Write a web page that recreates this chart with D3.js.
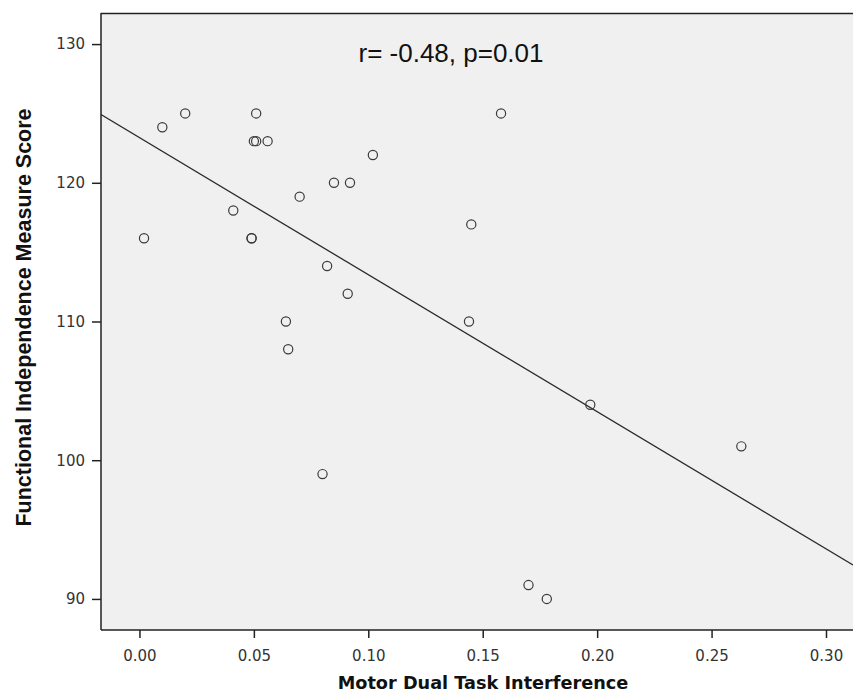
<!DOCTYPE html>
<html>
<head>
<meta charset="utf-8">
<script src="https://cdn.jsdelivr.net/npm/d3@7"></script>
<style>
  body { margin: 0; background: #fff; }
  svg { display: block; }
</style>
</head>
<body>
<div class="svg"></div>
<script>
// data
var interference = [0.002, 0.010, 0.020, 0.041, 0.049, 0.049, 0.050, 0.051, 0.051, 0.056,
                    0.064, 0.065, 0.070, 0.080, 0.082, 0.085, 0.091, 0.092, 0.102, 0.144,
                    0.145, 0.158, 0.170, 0.178, 0.197, 0.263];
var fimScore =     [116, 124, 125, 118, 116, 116, 123, 123, 125, 123,
                    110, 108, 119, 99, 114, 120, 112, 120, 122, 110,
                    117, 125, 91, 90, 104, 101];
var xTicks = [0.00, 0.05, 0.10, 0.15, 0.20, 0.25, 0.30];
var yTicks = [90, 100, 110, 120, 130];
var annotation = "r= -0.48, p=0.01";

var width = 853, height = 693;
var margin = {top: 13, right: 0, bottom: 63, left: 101};

var data = interference.map(function(d, i){ return {x: d, y: fimScore[i]}; });

var svg = d3.select("div.svg")
    .append("svg")
    .attr("width", width)
    .attr("height", height);

var x = d3.scaleLinear()
    .domain([-0.0168, 0.3118])
    .range([margin.left, width - margin.right]);

var y = d3.scaleLinear()
    .domain([87.76, 132.24])
    .range([height - margin.bottom, margin.top]);

// plot background
svg.append("rect")
    .attr("x", margin.left)
    .attr("y", margin.top)
    .attr("width", width - margin.right - margin.left)
    .attr("height", height - margin.bottom - margin.top)
    .attr("fill", "#f0f0f0");

svg.append("line")
    .attr("x1", margin.left).attr("x2", width)
    .attr("y1", margin.top + 0.5).attr("y2", margin.top + 0.5)
    .attr("stroke", "#222").attr("stroke-width", 1.3);

// least squares fit
var mx = d3.mean(data, d => d.x), my = d3.mean(data, d => d.y);
var sxy = d3.sum(data, d => (d.x - mx) * (d.y - my));
var sxx = d3.sum(data, d => (d.x - mx) * (d.x - mx));
var slope = sxy / sxx, intercept = my - slope * mx;
var xd = x.domain();

svg.append("clipPath").attr("id", "plotclip")
    .append("rect")
    .attr("x", margin.left).attr("y", margin.top)
    .attr("width", width - margin.left).attr("height", height - margin.bottom - margin.top);

var line = d3.line()
    .x(d => x(d))
    .y(d => y(intercept + slope * d));

svg.append("path")
    .datum(xd)
    .attr("clip-path", "url(#plotclip)")
    .attr("fill", "none")
    .attr("stroke", "#2a2a2a")
    .attr("stroke-width", 1.3)
    .attr("d", line);

svg.append("g")
    .selectAll("circle")
    .data(data)
    .enter().append("circle")
    .attr("cx", d => x(d.x))
    .attr("cy", d => y(d.y))
    .attr("r", 4.6)
    .attr("fill", "none")
    .attr("stroke", "#3a3a3a")
    .attr("stroke-width", 1.2);

var xAxis = d3.axisBottom(x)
    .tickValues(xTicks)
    .tickFormat(d3.format(".2f"))
    .tickSize(8)
    .tickPadding(12);

var yAxis = d3.axisLeft(y)
    .tickValues(yTicks)
    .tickSize(9)
    .tickPadding(7);

var gx = svg.append("g")
    .attr("transform", `translate(0,${height - margin.bottom})`)
    .call(xAxis);

var gy = svg.append("g")
    .attr("transform", `translate(${margin.left},0)`)
    .call(yAxis);

[gx, gy].forEach(function(g){
  g.select(".domain").attr("stroke", "#222").attr("stroke-width", 1.5);
  g.selectAll(".tick line").attr("stroke", "#222").attr("stroke-width", 1.5);
  g.selectAll(".tick text")
    .attr("fill", "#333")
    .style("font-family", "'DejaVu Sans', Verdana, sans-serif")
    .style("font-size", "15px");
});
gx.select(".domain").attr("d", `M${margin.left},0H${width}`);
gy.select(".domain").attr("d", `M0,${margin.top}V${height - margin.bottom}`);

svg.append("text")
    .attr("x", 483)
    .attr("y", 689)
    .attr("text-anchor", "middle")
    .style("font-family", "'DejaVu Sans', Verdana, sans-serif")
    .style("font-weight", "bold")
    .style("font-size", "17.7px")
    .attr("fill", "#111")
    .text("Motor Dual Task Interference");

svg.append("text")
    .attr("transform", "translate(31,317.5) rotate(-90)")
    .attr("text-anchor", "middle")
    .style("font-family", "'Liberation Sans', Arial, sans-serif")
    .style("font-weight", "bold")
    .style("font-size", "21.5px")
    .attr("fill", "#111")
    .text("Functional Independence Measure Score");

svg.append("text")
    .attr("x", 451)
    .attr("y", 62)
    .attr("text-anchor", "middle")
    .style("font-family", "'Liberation Sans', Arial, sans-serif")
    .style("font-size", "26px")
    .attr("fill", "#111")
    .text(annotation);
</script>
</body>
</html>
